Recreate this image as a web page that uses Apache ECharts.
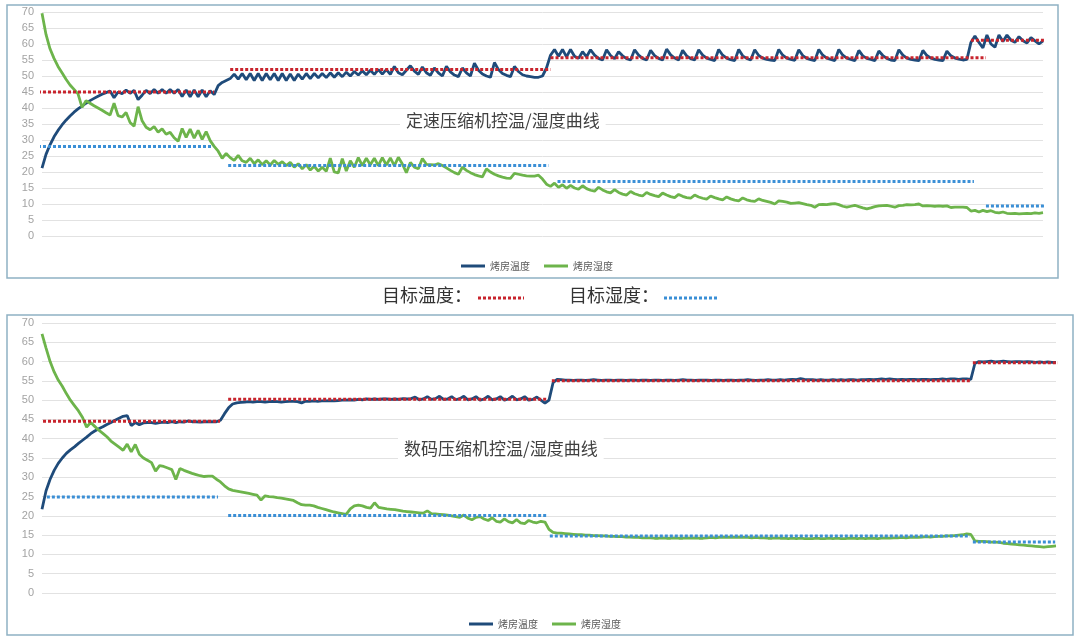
<!DOCTYPE html>
<html>
<head>
<meta charset="utf-8">
<script src="https://cdn.jsdelivr.net/npm/echarts@6/dist/echarts.min.js"></script>
<style>
  html, body { margin: 0; padding: 0; background: #fff; }
  #chart { width: 1080px; height: 644px; }
</style>
</head>
<body>
<div id="chart"></div>
<script>
// 定速压缩机：烤房温度 / 湿度（按时间采样，共 251 点）
var tempTop = [
  21.2, 25.5, 28.5, 31, 33, 34.7, 36.2, 37.5, 38.7, 39.7, 40.6, 41.5, 42.3, 43, 43.7, 44.3, 44.8, 45.3,
  43.2, 45, 44.5, 45.6, 44.6, 45.5, 42.6, 44, 45.5, 44.5, 45.8, 44.6, 45.8, 44.6, 45.8, 44.6, 45.8, 43.6,
  45.6, 43.5, 45.6, 43.5, 45.6, 43.5, 45.4, 44.2,
  47, 48, 48.6, 49.2, 50.6, 49, 50.8, 48.8, 50.8, 48.6, 50.8, 48.6, 50.8, 48.8, 50.8, 48.6, 50.8, 48.6,
  50.6, 48.6, 50.6, 49, 50.8, 49.2, 50.8, 49.4, 50.8, 49.5, 51, 49.6, 51, 49.8, 51.2, 50, 51.4, 50.3,
  51.6, 50.4, 51.8, 50.5, 52, 50.6, 52, 50.5,
  53, 51, 50.4, 51.8, 53.2, 51.5, 50.5, 52.8, 51, 50.2, 52.5, 51, 50, 53, 51.3, 50.3, 49.8, 52.5, 51, 50,
  54, 51.8, 50.6, 50, 49.6, 54.2, 52, 50.8, 50.2, 49.8, 53, 51.4, 50.4, 50, 49.8, 49.6, 49.6, 50,
  52.5, 56.5, 58.3, 56.2, 58.3, 56, 58.3, 56.2, 55.5, 57.6, 56, 58.2, 56.5, 55.5, 55, 58.2, 56.4, 55.4,
  57.6, 56.3, 55.4, 55, 58.2, 56.5, 55.5, 55, 58, 56.4, 55.5, 55, 58.4, 56.6, 55.6, 55, 58, 56.3, 55.4, 55,
  58.2, 56.5, 55.6, 55.2, 54.8, 58.3, 56.5, 55.6, 55.1, 54.8, 58.3, 56.3, 55.5, 55, 58.2, 56.4, 55.6, 55.2,
  55, 54.8, 58.3, 56.5, 55.6, 55.2, 54.9, 58.2, 56.4, 55.5, 55.1, 54.8, 58.3, 56.5, 55.6, 55.2, 54.8, 58.3,
  56.5, 55.6, 55.2, 54.8, 58, 56.3, 55.5, 55.2, 54.8, 57.8, 56.4, 55.5, 55, 54.8, 58.2, 56.5, 55.6, 55.2,
  55, 54.8, 58, 56.4, 55.6, 55.2, 55, 54.8, 57.8, 56.3, 55.6, 55.3, 55, 55.2,
  60.5, 62.5, 60.5, 58.8, 62.8, 60, 59, 62.8, 60.8, 62.8, 61.2, 60.5, 62.3, 61, 60.3, 62, 61, 60, 61
];
var humTop = [
  69.6, 63, 58.5, 55.5, 53, 51, 49, 47.2, 45.8, 44.4, 40.2, 42.3, 41.5, 40.7, 40, 39.3, 38.5, 37.8,
  41.5, 37.6, 37.2, 38.6, 35.5, 34.3, 40.4, 36, 34, 33.2, 34.2, 32.4, 33.5, 31.8, 32.4, 30.7, 29.6, 33.6,
  30.8, 33.4, 30.6, 33, 30.2, 32.6, 29.8, 28,
  26.5, 24.3, 25.8, 24.5, 23.6, 25.2, 23.5, 23, 24.3, 22.6, 23.8, 22.3, 23.5, 22.2, 23.6, 22.4, 23.2, 22,
  23, 21.5, 22.6, 21, 22.3, 20.6, 21.8, 20.3, 21.5, 20.2, 24.3, 20, 19.7, 24.2, 20.3, 23.5, 21.5, 24.5,
  22, 24.3, 22.3, 24.3, 22, 24.5, 22.2, 24.4,
  22, 24.6, 22.5, 19.8, 23, 21.5, 21, 24.2, 22.4, 22.3, 22.2, 22.6, 22, 21.3, 20.5, 19.8, 19.3, 21.5,
  20.5, 19.8, 19.2, 18.8, 18.5, 21, 20, 19.3, 18.8, 18.4, 18.1, 18, 19.6, 19.3, 19, 18.8, 18.7, 18.7, 19, 17.8,
  16.2, 15.5, 16.5, 15.2, 16, 14.9, 15.8, 15, 14.6, 15.7, 14.8, 14.3, 14, 15.2, 14.4, 13.8, 13.5, 14.5,
  13.6, 13.1, 12.8, 13.9, 13.2, 12.8, 12.5, 13.6, 13, 12.6, 12.3, 13.4, 12.8, 12.3, 12, 13, 12.4, 12,
  11.8, 12.8, 12.2, 11.8, 11.5, 12.5, 12, 11.6, 11.3, 12.2, 11.6, 11.2, 11, 11.9, 11.3, 11, 10.8, 11.6,
  11.1, 10.8, 10.5, 10, 11, 10.8, 10.6, 10.2, 10.3, 10.4, 10.1, 9.8, 9.6, 9, 9.8, 9.9, 9.8, 10, 10.1, 9.8,
  9.3, 9, 9.3, 9.6, 9.2, 8.8, 8.5, 8.8, 9.2, 9.4, 9.5, 9.6, 9.3, 9, 9.5, 9.6, 9.8, 9.7, 9.8, 10, 9.4,
  9.5, 9.4, 9.3, 9.4, 9.3, 9.4, 8.9, 9, 9, 9, 8.9,
  7.8, 8, 7.5, 8, 7.6, 7.9, 7.4, 7.2, 7.5, 7.1, 7, 7.1, 6.9, 7, 7.1, 7, 7.2, 7.1, 7.3
];

// 数码压缩机：烤房温度 / 湿度
var tempBottom = [
  21.7, 26.5, 29.5, 31.8, 33.6, 35, 36.2, 37.1, 37.9, 38.8, 39.6, 40.4, 41.3, 42, 42.6, 43.1, 43.7, 44.2,
  44.8, 45.3, 45.8, 46,
  43.4, 44.2, 43.6, 44.1, 44.2, 44.2, 44, 44.2, 44.3, 44.2, 44.4, 44.2, 44.4, 44.3, 44.6, 44.4, 44.4, 44.3,
  44.4, 44.4, 44.4, 44.4,
  44.8, 46.5, 48, 49, 49.3, 49.4,
  49.5, 49.6, 49.5, 49.6, 49.6, 49.5, 49.6, 49.7, 49.6, 49.5, 49.6, 49.7, 49.7, 49.6, 49.3, 49.7, 49.7, 49.8,
  49.7, 49.8, 49.8, 49.9, 49.8, 49.9, 50, 50, 50.1, 50, 50.2, 50.1, 50.3, 50.2, 50.3, 50.2, 50.3, 50.3,
  50.2, 50.3, 50.2, 50.4, 50.3, 50.4,
  50.8, 50.1, 50.3, 50.9, 50.2, 50.4, 51, 50.2, 50.3, 50.9, 50.1, 50.4, 51, 50.1, 50.3, 50.9, 50, 50.3,
  51, 50.1, 50.3, 50.9, 50, 50.3, 51, 50.1, 50.3, 50.9, 50, 50.2, 50.8, 50,
  49.2, 50, 54.5, 55.4, 55.3, 55.2,
  55.2, 55.1, 55.2, 55.2, 55.1, 55.2, 55.3, 55.2, 55.1, 55.2, 55.2, 55.1, 55.2, 55.2, 55.1, 55.2, 55.2, 55.1,
  55.2, 55.2, 55.1, 55.2, 55.2, 55.1, 55.2, 55.2, 55.1, 55.2, 55.3, 55.2, 55.2, 55.1, 55.2, 55.2, 55.2, 55.1,
  55.2, 55.2, 55.1, 55.2, 55.2, 55.1, 55.2, 55.2, 55.3, 55.2, 55.1, 55.2, 55.2, 55.3, 55.2, 55.2, 55.3, 55.2,
  55.3, 55.4, 55.3, 55.6, 55.4, 55.3, 55.3, 55.2, 55.3, 55.2, 55.2, 55.3, 55.2, 55.3, 55.2, 55.3, 55.3, 55.2,
  55.3, 55.3, 55.4, 55.3, 55.4, 55.5, 55.4, 55.5, 55.4, 55.3, 55.4, 55.3, 55.4, 55.4, 55.3, 55.4, 55.4, 55.3,
  55.4, 55.4, 55.5, 55.4, 55.5, 55.5, 55.4, 55.5, 55.5, 55.4,
  59.5, 60, 59.9, 60, 60.1, 59.9, 60, 60.1, 60, 59.9, 60, 60, 59.9, 60, 59.9, 59.8, 59.9, 59.8, 59.9, 59.8, 59.8
];
var humBottom = [
  67.2, 63.5, 60, 57.3, 55.2, 53.6, 51.7, 50, 48.6, 47.2, 45.5, 43, 44.2, 43.2, 42.2, 41.4, 40.5, 39.4,
  38.6, 37.8, 37, 38.6, 36.6, 38.5, 36, 35, 34.4, 33.8, 31.6, 33, 32.8, 32.4, 32, 29.4, 32.3, 31.8, 31.4, 31,
  30.7, 30.4, 30.2, 30.3, 30.3, 29.5, 28.8, 27.8, 27, 26.6, 26.4, 26.2, 26, 25.8, 25.6, 25.4, 24.1, 25.2,
  25, 24.9, 24.7, 24.6, 24.4, 24.2, 24, 23.4, 22.9, 22.8, 22.8, 22.6, 22.2, 21.9, 21.6, 21.3, 21, 20.8,
  20.6, 20.4, 21.8, 22.6, 22.8, 22.6, 22.2, 22, 23.4, 22.2, 22, 21.8, 21.7, 21.6, 21.4, 21.2, 21.1, 21,
  20.9, 20.8, 20.7, 21.3, 20.6, 20.5, 20.4, 20.3, 20.2, 20, 19.8, 19.6, 20.2, 19.4, 19, 19.6, 19.8, 19.2,
  18.8, 19.5, 18.6, 18.4, 19.2, 18.5, 18.2, 19, 18.2, 18, 18.8, 18.4, 18.2, 18.6, 18.4, 16.5, 15.7, 15.5,
  15.5, 15.4, 15.3, 15.2, 15.1, 15.1, 15, 15, 14.9, 14.9, 14.8, 14.8, 14.7, 14.7, 14.6, 14.6, 14.5, 14.5,
  14.4, 14.4, 14.3, 14.3, 14.3, 14.2, 14.2, 14.3, 14.2, 14.2, 14.3, 14.2, 14.2, 14.3, 14.2, 14.3, 14.2, 14.2,
  14.3, 14.4, 14.3, 14.4, 14.5, 14.4, 14.5, 14.4, 14.5, 14.4, 14.4, 14.3, 14.4, 14.3, 14.3, 14.2, 14.2, 14.3,
  14.2, 14.2, 14.1, 14.2, 14.1, 14.2, 14.1, 14.1, 14.1, 14.2, 14.1, 14.1, 14.2, 14.1, 14.2, 14.1, 14.1, 14.2,
  14.2, 14.1, 14.2, 14.1, 14.2, 14.2, 14.1, 14.2, 14.3, 14.2, 14.3, 14.3, 14.4, 14.3, 14.4, 14.5, 14.4, 14.5,
  14.6, 14.5, 14.6, 14.7, 14.7, 14.8, 14.8, 14.9, 15, 15.1, 15.3, 15.2,
  13.5, 13.4, 13.4, 13.3, 13.2, 13.2, 13.1, 12.9, 12.8, 12.7, 12.6, 12.5, 12.4, 12.3, 12.2, 12.1, 12, 11.9,
  12, 12.1, 12.2
];

// 目标值分段：[起点, 终点, 目标值]（单位与采样序号一致）
var targetTempTop = [[-1, 43, 45], [47, 127, 52], [127, 235.75, 55.7], [232, 251.25, 61.2]];
var targetHumTop = [[-1, 42.75, 28], [46.5, 126.5, 22], [128.75, 232.75, 17], [235.75, 254, 9.4]];
var targetTempBottom = [[0.25, 43.9, 44.5], [45.9, 124.5, 50.2], [125.7, 228.8, 55], [229.5, 250.5, 59.7]];
var targetHumBottom = [[1.2, 43.4, 24.9], [45.9, 124.8, 20.1], [125.2, 228.8, 14.8], [229.5, 249.8, 13.2]];

var seriesNames = ['烤房温度', '烤房湿度'];
var yTicks = { min: 0, max: 70, interval: 5 };

var C_TEMP = '#1f4b7a', C_HUM = '#6db44b', C_TT = '#c8242d', C_TH = '#3b8fd6';
var CJK = '"Noto Sans CJK SC", sans-serif';

var chart = echarts.init(document.getElementById('chart'));

function toXY(arr) {
  return arr.map(function (v, i) { return [i, v]; });
}

function curve(name, data, color, k) {
  return {
    type: 'line', name: name, xAxisIndex: k, yAxisIndex: k,
    data: toXY(data), symbol: 'none', z: 2,
    lineStyle: { color: color, width: 2.8 }, itemStyle: { color: color }
  };
}

function targets(segs, color, k) {
  return segs.map(function (s) {
    return {
      type: 'line', xAxisIndex: k, yAxisIndex: k, silent: true, clip: false,
      data: [[s[0], s[2]], [s[1], s[2]]], symbol: 'none', z: 3,
      lineStyle: { color: color, width: 3, type: [3, 2] }
    };
  });
}

function yAxis(k) {
  return {
    type: 'value', gridIndex: k, min: yTicks.min, max: yTicks.max, interval: yTicks.interval,
    axisLine: { show: false }, axisTick: { show: false },
    axisLabel: { color: '#a3a3a3', fontSize: 11, fontFamily: 'Liberation Sans', margin: 8 },
    splitLine: { lineStyle: { color: '#e2e2e2', width: 1 } }
  };
}

var series = [].concat(
  [curve(seriesNames[0], tempTop, C_TEMP, 0), curve(seriesNames[1], humTop, C_HUM, 0)],
  targets(targetTempTop, C_TT, 0), targets(targetHumTop, C_TH, 0),
  [curve(seriesNames[0], tempBottom, C_TEMP, 1), curve(seriesNames[1], humBottom, C_HUM, 1)],
  targets(targetTempBottom, C_TT, 1), targets(targetHumBottom, C_TH, 1)
);

function legend(left, top) {
  return {
    data: seriesNames, left: left, top: top, icon: 'rect', itemWidth: 24, itemHeight: 3,
    itemGap: 14, selectedMode: false,
    textStyle: { color: '#5a5a5a', fontSize: 10, fontFamily: CJK }
  };
}

var option = {
  animation: false,
  backgroundColor: '#fff',
  grid: [
    { left: 42, right: 37, top: 12, bottom: 408 },
    { left: 42, right: 24, top: 323, bottom: 51 }
  ],
  xAxis: [
    { type: 'value', gridIndex: 0, min: 0, max: 250, show: false },
    { type: 'value', gridIndex: 1, min: 0, max: 250, show: false }
  ],
  yAxis: [yAxis(0), yAxis(1)],
  title: [
    { text: '定速压缩机控温/湿度曲线', left: 400, top: 110, padding: [2, 6],
      backgroundColor: '#fff',
      textStyle: { color: '#404040', fontSize: 17, fontWeight: 'normal', fontFamily: CJK } },
    { text: '数码压缩机控温/湿度曲线', left: 398, top: 438, padding: [2, 6],
      backgroundColor: '#fff',
      textStyle: { color: '#404040', fontSize: 17, fontWeight: 'normal', fontFamily: CJK } }
  ],
  legend: [legend(456, 256), legend(464, 614)],
  graphic: [
    { type: 'rect', z: -1, shape: { x: 7, y: 5, width: 1051, height: 273 },
      style: { fill: 'none', stroke: '#8fb1c3', lineWidth: 1.5 } },
    { type: 'rect', z: -1, shape: { x: 7, y: 315, width: 1066, height: 320 },
      style: { fill: 'none', stroke: '#8fb1c3', lineWidth: 1.5 } },
    { type: 'text', left: 382, top: 286,
      style: { text: '目标温度：', fill: '#333', fontSize: 18, fontFamily: CJK } },
    { type: 'line', shape: { x1: 478, y1: 298, x2: 524, y2: 298 },
      style: { stroke: C_TT, lineWidth: 3, lineDash: [3, 2] } },
    { type: 'text', left: 569, top: 286,
      style: { text: '目标湿度：', fill: '#333', fontSize: 18, fontFamily: CJK } },
    { type: 'line', shape: { x1: 664, y1: 298, x2: 718, y2: 298 },
      style: { stroke: C_TH, lineWidth: 3, lineDash: [3, 2] } }
  ],
  series: series
};

chart.setOption(option);
</script>
</body>
</html>
